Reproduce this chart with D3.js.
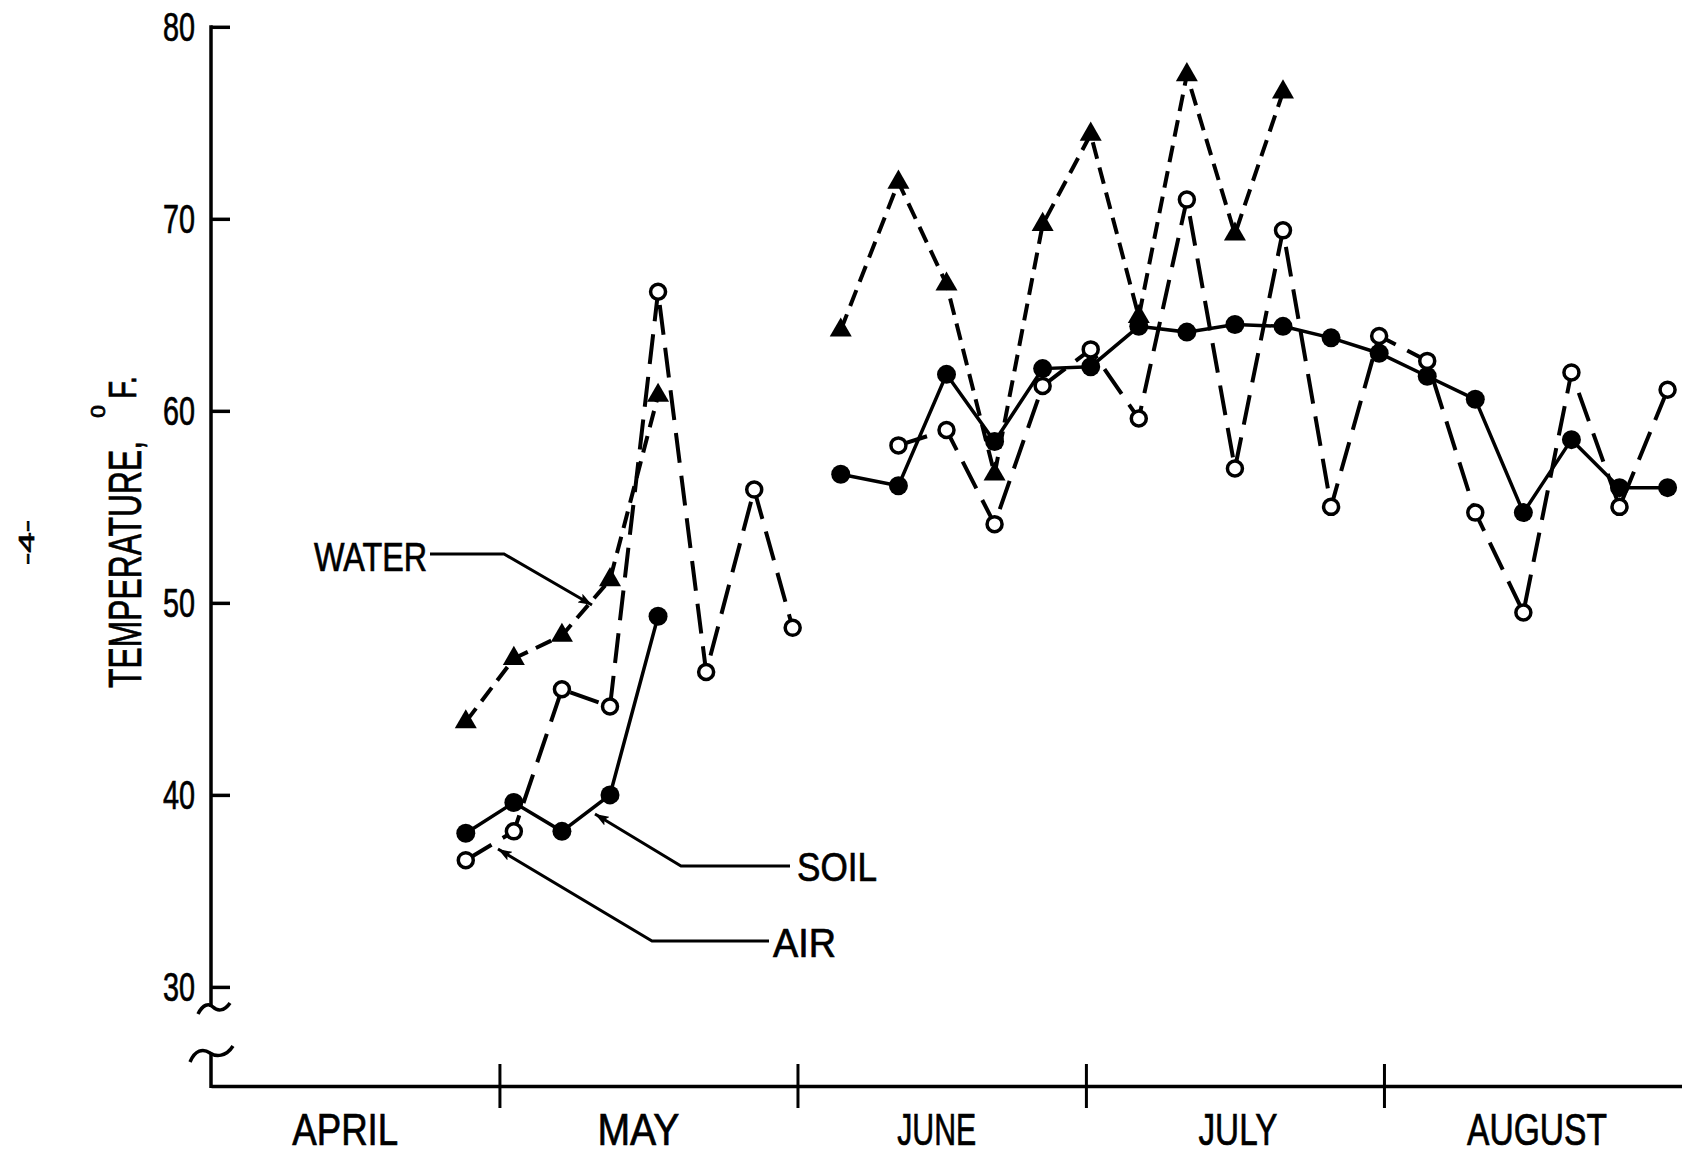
<!DOCTYPE html>
<html><head><meta charset="utf-8">
<script src="https://cdn.jsdelivr.net/npm/d3@7"></script>
<style>
html,body{margin:0;padding:0;background:#fff;}
svg{display:block;background:#fff;}
text{font-family:"Liberation Sans Narrow","Liberation Sans",Arial,sans-serif;fill:#000;stroke:#000;stroke-width:0.7px;}
</style></head><body>
<svg id="chart" width="1682" height="1155"></svg>
<script>
// ---- data ----
const sampleDates = [
  "1968-04-27 12","1968-05-02 12","1968-05-07 12","1968-05-12 12","1968-05-17 12",
  "1968-05-22 12","1968-05-27 12","1968-05-31 12","1968-06-05 12","1968-06-11 12",
  "1968-06-16 12","1968-06-21 12","1968-06-26 12","1968-07-01 12","1968-07-06 12",
  "1968-07-11 12","1968-07-16 12","1968-07-21 12","1968-07-26 12","1968-07-31 12",
  "1968-08-05 12","1968-08-10 12","1968-08-15 12","1968-08-20 12","1968-08-25 12",
  "1968-08-30 12"];
const waterTemps = [43.8,47.1,48.3,51.2,60.8,null,null,null,64.2,71.9,
  66.6,56.7,69.7,74.4,64.9,77.5,69.2,76.6,null,null,null,null,null,null,null,null];
const soilTemps = [38.0,39.6,38.1,40.0,49.3,null,null,null,56.7,56.1,
  61.9,58.4,62.2,62.3,64.4,64.1,64.5,64.4,63.8,63.0,61.8,60.6,54.7,58.5,56.0,56.0];
const airTemps = [36.6,38.1,45.5,44.6,66.2,46.4,55.9,48.7,null,58.2,
  59.0,54.1,61.3,63.2,59.6,71.0,57.0,69.4,55.0,63.9,62.6,54.7,49.5,62.0,55.0,61.1];
const yTickValues = [30,40,50,60,70,80];
const monthStarts = ["1968-04-01","1968-05-01","1968-06-01","1968-07-01","1968-08-01","1968-09-01"];
const monthLabels = ["APRIL","MAY","JUNE","JULY","AUGUST"];
const seriesLabels = ["WATER","SOIL","AIR"];
const yTitle = "TEMPERATURE,";
const yUnitSup = "0";
const yUnit = "F.";
const pageNumber = "-4-";

// ---- setup ----
const svg = d3.select("#chart");
const parseSample = d3.timeParse("%Y-%m-%d %H");
const parseDay = d3.timeParse("%Y-%m-%d");
const dates = sampleDates.map(parseSample);
const months = monthStarts.map(parseDay);

const x = d3.scaleTime().domain([months[0], months[months.length-1]]).range([211, 1682]);
const y = d3.scaleLinear().domain([30, 80]).range([986.9, 26.8]);

const INK = "#000";

// ---- y axis ----
const yAxisG = svg.append("g").attr("transform", "translate(211,0)")
  .call(d3.axisRight(y).tickValues(yTickValues).tickSize(19).tickFormat(() => ""));
yAxisG.select(".domain").remove();
yAxisG.selectAll(".tick line").attr("stroke", INK).attr("stroke-width", 3.5);

// axis line with break
svg.append("line").attr("x1", 211).attr("x2", 211).attr("y1", y(80) - 1.5).attr("y2", 1007)
  .attr("stroke", INK).attr("stroke-width", 3.5);
svg.append("path").attr("d", "M198,1014 C203,1004 209,1003 213,1007 C217,1011 224,1012 230,1003")
  .attr("fill", "none").attr("stroke", INK).attr("stroke-width", 3.5);
svg.append("path").attr("d", "M190,1062 C195,1050 203,1048 210,1053 C216,1057 226,1057 233,1046")
  .attr("fill", "none").attr("stroke", INK).attr("stroke-width", 3.5);
svg.append("line").attr("x1", 211).attr("x2", 211).attr("y1", 1053).attr("y2", 1088)
  .attr("stroke", INK).attr("stroke-width", 3.5);

// y tick labels
svg.append("g").selectAll("text").data(yTickValues).join("text")
  .attr("x", 195).attr("y", d => y(d) + 14)
  .attr("text-anchor", "end")
  .attr("font-size", 40)
  .attr("textLength", 32).attr("lengthAdjust", "spacingAndGlyphs")
  .text(d => d);

// ---- x axis ----
const xAxisG = svg.append("g").attr("transform", "translate(0,1086)")
  .call(d3.axisBottom(x).tickValues(months.slice(1, 5)).tickSizeOuter(0).tickSizeInner(22).tickFormat(() => ""));
xAxisG.select(".domain").attr("stroke", INK).attr("stroke-width", 3.5);
xAxisG.selectAll(".tick line").attr("y1", -22).attr("y2", 22).attr("stroke", INK).attr("stroke-width", 3);

const monthWidths = [106, 82, 79, 79, 140];
const monthNudge = [-10, -10, -5, 3, 4];
svg.append("g").selectAll("text").data(monthLabels).join("text")
  .attr("x", (d, i) => (x(months[i]) + x(months[i+1])) / 2 + monthNudge[i])
  .attr("y", 1145)
  .attr("text-anchor", "middle")
  .attr("font-size", 44)
  .attr("textLength", (d, i) => monthWidths[i]).attr("lengthAdjust", "spacingAndGlyphs")
  .text(d => d);

// ---- y title & page number ----
svg.append("text").attr("transform", "translate(141,688) rotate(-90)")
  .attr("font-size", 47).attr("textLength", 247).attr("lengthAdjust", "spacingAndGlyphs")
  .text(yTitle);
svg.append("text").attr("transform", "translate(105,418) rotate(-90)")
  .attr("font-size", 21).attr("textLength", 13).attr("lengthAdjust", "spacingAndGlyphs")
  .text(yUnitSup);
svg.append("text").attr("transform", "translate(136,399) rotate(-90)")
  .attr("font-size", 39).attr("textLength", 23).attr("lengthAdjust", "spacingAndGlyphs")
  .text(yUnit);
svg.append("text").attr("transform", "translate(34,565) rotate(-90)")
  .attr("font-size", 22).attr("textLength", 45).attr("lengthAdjust", "spacingAndGlyphs")
  .text(pageNumber);

// ---- series ----
function rows(vals) { return vals.map((v, i) => ({date: dates[i], v})); }
const line = d3.line().defined(d => d.v != null).x(d => x(d.date)).y(d => y(d.v));

const water = rows(waterTemps), soil = rows(soilTemps), air = rows(airTemps);

svg.append("path").datum(air).attr("d", line).attr("fill", "none")
  .attr("stroke", INK).attr("stroke-width", 4).attr("stroke-dasharray", "30,13");
svg.append("path").datum(water).attr("d", line).attr("fill", "none")
  .attr("stroke", INK).attr("stroke-width", 4).attr("stroke-dasharray", "17,9");
svg.append("path").datum(soil).attr("d", line).attr("fill", "none")
  .attr("stroke", INK).attr("stroke-width", 3.5);

// markers
svg.append("g").selectAll("path").data(water.filter(d => d.v != null)).join("path")
  .attr("transform", d => `translate(${x(d.date)},${y(d.v)})`)
  .attr("d", d3.symbol(d3.symbolTriangle, 210)).attr("fill", INK);
svg.append("g").selectAll("circle").data(air.filter(d => d.v != null)).join("circle")
  .attr("cx", d => x(d.date)).attr("cy", d => y(d.v)).attr("r", 7.5)
  .attr("fill", "#fff").attr("stroke", INK).attr("stroke-width", 3.5);
svg.append("g").selectAll("circle").data(soil.filter(d => d.v != null)).join("circle")
  .attr("cx", d => x(d.date)).attr("cy", d => y(d.v)).attr("r", 9.5)
  .attr("fill", INK);

// ---- labels with leaders ----
svg.append("defs").append("marker").attr("id", "arr")
  .attr("viewBox", "0 0 14 10").attr("refX", 14).attr("refY", 5)
  .attr("markerWidth", 14).attr("markerHeight", 10).attr("markerUnits", "userSpaceOnUse")
  .attr("orient", "auto")
  .append("path").attr("d", "M0,0 L14,5 L0,10 L3,5 z").attr("fill", INK);

const leaderPaths = [
  [[430,554],[504,554],[592,605]],
  [[790,866],[681,866],[595,814]],
  [[769,941],[652,941],[498,849]]
];
const labelPos = [[314,571,113],[797,881,80],[773,957,63]];
seriesLabels.forEach((lab, i) => {
  svg.append("path").attr("d", d3.line()(leaderPaths[i])).attr("fill", "none")
    .attr("stroke", INK).attr("stroke-width", 3).attr("marker-end", "url(#arr)");
  svg.append("text").attr("x", labelPos[i][0]).attr("y", labelPos[i][1])
    .attr("font-size", 40).attr("textLength", labelPos[i][2]).attr("lengthAdjust", "spacingAndGlyphs")
    .text(lab);
});
</script>
</body></html>
